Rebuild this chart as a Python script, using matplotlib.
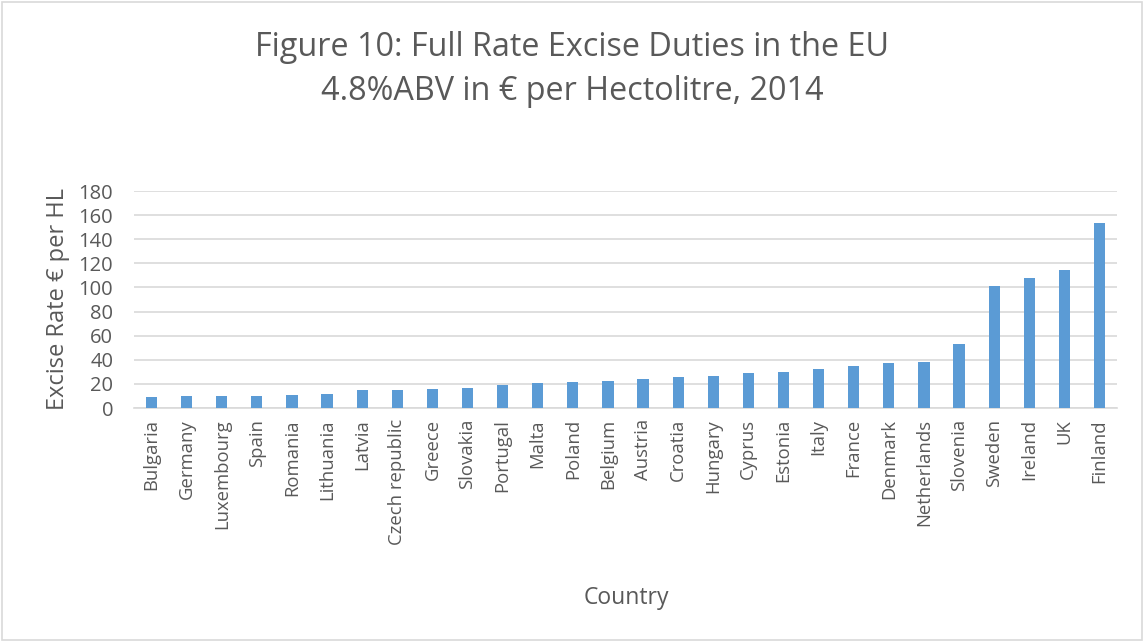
import numpy as np
import matplotlib.pyplot as plt

countries = ['Bulgaria', 'Germany', 'Luxembourg', 'Spain', 'Romania', 'Lithuania',
             'Latvia', 'Czech republic', 'Greece', 'Slovakia', 'Portugal', 'Malta',
             'Poland', 'Belgium', 'Austria', 'Croatia', 'Hungary', 'Cyprus', 'Estonia',
             'Italy', 'France', 'Denmark', 'Netherlands', 'Slovenia', 'Sweden',
             'Ireland', 'UK', 'Finland']
rates = [9.0, 9.6, 9.6, 10.1, 10.4, 11.8, 14.8, 14.8, 15.9, 17.0, 18.8, 20.7,
         21.8, 22.3, 24.0, 25.4, 26.2, 29.0, 30.1, 32.3, 35.0, 37.7, 37.9, 53.0,
         100.8, 108.2, 114.8, 153.6]
yticks = np.arange(0, 181, 20)

plt.rcParams['font.family'] = ['Open Sans', 'DejaVu Sans']
txt = '#595959'

fig = plt.figure(figsize=(11.44, 6.41), dpi=100)
ax = fig.add_axes([134/1144, 1-408/641, (1117-134)/1144, (408-191)/641])

x = np.arange(len(countries))
ax.bar(x, rates, width=0.32, color='#5B9BD5', zorder=3)

ax.set_xlim(-0.5, len(countries)-0.5)
ax.set_ylim(0, 180)
ax.set_yticks(yticks)
ax.set_xticks(x)
ax.set_xticklabels(countries, rotation=90, fontsize=13.3, color=txt)
ax.tick_params(axis='y', labelsize=14.5, labelcolor=txt, length=0, pad=15)
ax.tick_params(axis='x', length=0, pad=8)
ax.grid(axis='y', color='#D9D9D9', linewidth=1.2, zorder=0)
for s in ['top', 'right', 'left']:
    ax.spines[s].set_visible(False)
ax.spines['bottom'].set_color('#D9D9D9')
ax.spines['bottom'].set_linewidth(1.2)

ax.set_ylabel('Excise Rate € per HL', fontsize=17, color=txt, labelpad=6)
fig.text(626/1144, 1-598/641, 'Country', fontsize=16.5, color=txt, ha='center', va='center')
fig.text(0.5, 1-47/641, 'Figure 10: Full Rate Excise Duties in the EU', fontsize=23.3,
         color=txt, ha='center', va='center')
fig.text(0.5, 1-92/641, '4.8%ABV in € per Hectolitre, 2014', fontsize=23.3,
         color=txt, ha='center', va='center')

border = plt.Rectangle((0.002, 0.002), 0.996, 0.995, transform=fig.transFigure,
                       fill=False, edgecolor='#D9D9D9', linewidth=1.2)
fig.patches.append(border)

fig.savefig('out.png', dpi=100)
